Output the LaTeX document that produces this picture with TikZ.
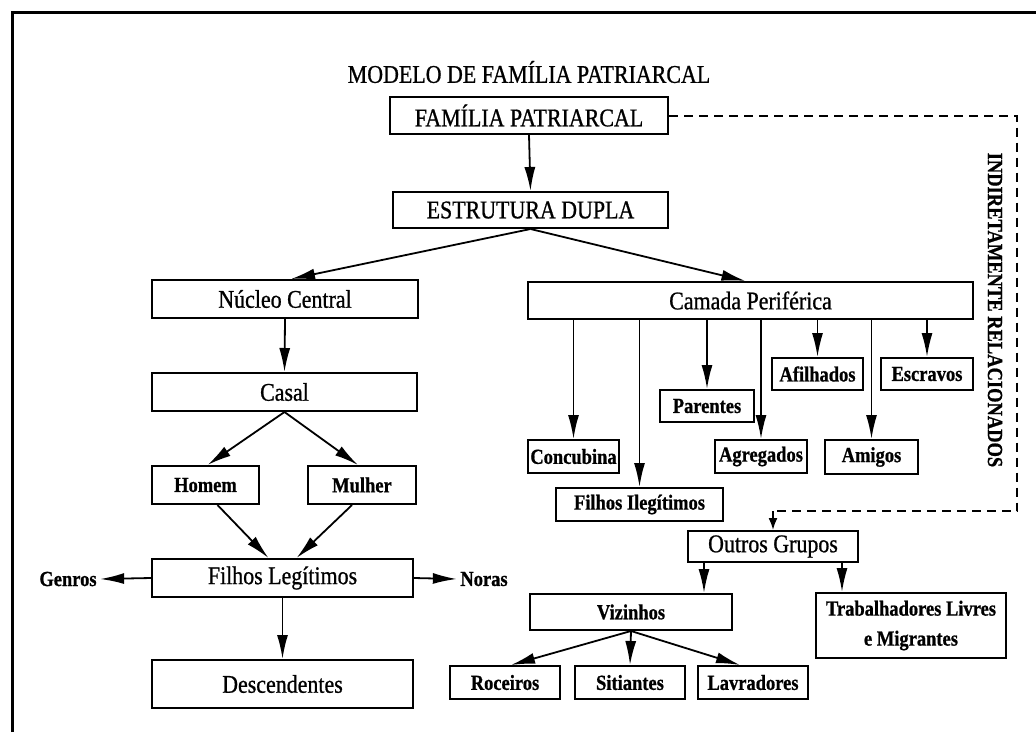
\documentclass[tikz,border=0pt]{standalone}
\usepackage{fontspec}
\setmainfont{Liberation Serif}[FakeStretch=0.86, FakeBold=0.8]
\usetikzlibrary{arrows.meta}

\tikzset{
  caixa/.style={draw, line width=2pt, inner sep=0pt, font=\fontsize{25.5}{30}\selectfont},
  caixab/.style={caixa, font=\fontsize{21.5}{30}\selectfont\bfseries},
  seta/.style={line width=1.8pt, -{Latex[length=24pt,width=11pt]}},
  tracejado/.style={line width=2pt, dash pattern=on 9pt off 6pt},
  rotulo/.style={font=\fontsize{21.5}{25}\selectfont\bfseries},
}

\begin{document}
\begin{tikzpicture}[x=1pt,y=-1pt]
	%%%%% START %%%%%
	\useasboundingbox (0,0) rectangle (1036,732);
	\draw[line width=3pt] (12,732) -- (12,12) -- (1036,12);
	
	\node[font=\fontsize{25.5}{30}\selectfont] (titulo) at (529,72) {MODELO DE FAMÍLIA PATRIARCAL};
	
	\node[caixa, minimum width=278pt, minimum height=37pt] (fp) at (529,115.5) {FAMÍLIA PATRIARCAL};
	\node[caixa, minimum width=275pt, minimum height=36pt] (ed) at (530.5,210) {ESTRUTURA DUPLA};
	
	% nucleo central
	\node[caixa, minimum width=266pt, minimum height=38pt] (nuc) at (285,299) {Núcleo Central};
	\node[caixa, minimum width=265pt, minimum height=38pt] (casal) at (284.5,392) {Casal};
	\node[caixab, minimum width=107pt, minimum height=38pt] (homem) at (205.5,485) {Homem};
	\node[caixab, minimum width=108pt, minimum height=38pt] (mulher) at (362,485) {Mulher};
	\node[caixa, minimum width=261pt, minimum height=38pt] (fleg) at (282.5,578) {Filhos Legítimos};
	\node[caixa, minimum width=261pt, minimum height=48pt] (desc) at (282.5,684) {Descendentes};
	\node[rotulo] (genros) at (68,579) {Genros};
	\node[rotulo] (noras) at (484,579) {Noras};
	
	% camada periferica
	\node[caixa, minimum width=445pt, minimum height=37pt] (cam) at (750.5,300.5) {Camada Periférica};
	\node[caixab, minimum width=91pt, minimum height=33pt] (conc) at (573.5,456.5) {Concubina};
	\node[caixab, minimum width=167pt, minimum height=33pt] (filei) at (639.5,504.5) {Filhos Ilegítimos};
	\node[caixab, minimum width=94pt, minimum height=32pt] (par) at (707,406) {Parentes};
	\node[caixab, minimum width=92pt, minimum height=33pt] (agr) at (761,456.5) {Agregados};
	\node[caixab, minimum width=91pt, minimum height=32pt] (afi) at (817.5,374) {Afilhados};
	\node[caixab, minimum width=93pt, minimum height=34pt] (ami) at (871.5,457) {Amigos};
	\node[caixab, minimum width=92pt, minimum height=32pt] (esc) at (927,374) {Escravos};
	
	% outros grupos
	\node[caixa, minimum width=170pt, minimum height=31pt] (outros) at (773,546.5) {Outros Grupos};
	\node[caixab, minimum width=202pt, minimum height=36pt] (viz) at (631,612) {Vizinhos};
	\node[caixab, minimum width=190pt, minimum height=65pt, align=center] (trab) at (911,625.5) {Trabalhadores Livres\\e Migrantes};
	\node[caixab, minimum width=110pt, minimum height=33pt] (roc) at (505,682.5) {Roceiros};
	\node[caixab, minimum width=110pt, minimum height=33pt] (sit) at (630,682.5) {Sitiantes};
	\node[caixab, minimum width=110pt, minimum height=33pt] (lav) at (753,682.5) {Lavradores};
	
	\node[rotulo, rotate=-90] (indir) at (995,310) {INDIRETAMENTE RELACIONADOS};
	
	% setas
	\draw[seta] (fp.south) -- (ed.north);
	\draw[seta] (ed.south) -- ([xshift=6pt]nuc.north);
	\draw[seta] (ed.south) -- ([xshift=-5pt]cam.north);
	\draw[seta] (nuc.south) -- (casal.north);
	\draw[seta] (casal.south) -- ([xshift=2pt]homem.north);
	\draw[seta] (casal.south) -- ([xshift=-4pt]mulher.north);
	\draw[seta] ([xshift=12pt]homem.south) -- ([xshift=-14pt]fleg.north);
	\draw[seta] ([xshift=-10pt]mulher.south) -- ([xshift=14pt]fleg.north);
	\draw[seta] (fleg.west) -- (genros.east);
	\draw[seta] (fleg.east) -- (noras.west);
	\draw[seta] (fleg.south) -- (desc.north);
	
	\foreach \filho in {conc,filei,par,agr,afi,ami,esc}
		\draw[seta] (\filho.north |- cam.south) -- (\filho.north);
	
	\draw[seta] ([xshift=-69pt]outros.south) -- ([xshift=-69pt]outros.south |- viz.north);
	\draw[seta] ([xshift=69pt]outros.south) -- ([xshift=69pt]outros.south |- trab.north);
	\draw[seta] (viz.south) -- ([xshift=6pt]roc.north);
	\draw[seta] (viz.south) -- (sit.north);
	\draw[seta] (viz.south) -- ([xshift=-13pt]lav.north);
	
	% indiretamente relacionados
	\coordinate (dtopo) at (1017,116);
	\coordinate (dbase) at (1017,511);
	\draw[tracejado] (fp.east) -- (fp.east -| dtopo) -- (dbase) -- (dbase -| outros.north);
	\draw[line width=1.8pt, -{Latex[length=12pt,width=9pt]}] (dbase -| outros.north) -- (outros.north);
	%%%%% END %%%%%
\end{tikzpicture}
\end{document}
